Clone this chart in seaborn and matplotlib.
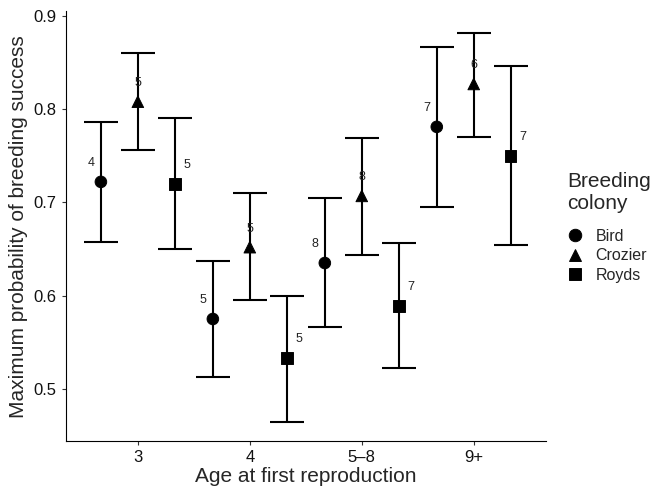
import numpy as np
import pandas as pd
import matplotlib
matplotlib.use("Agg")
import matplotlib.pyplot as plt
import seaborn as sns

# Values
ages = ["3", "4", "5–8", "9+"]
colonies = ["Bird", "Crozier", "Royds"]

bird_est = [0.722, 0.575, 0.635, 0.781]
bird_lo = [0.658, 0.513, 0.566, 0.695]
bird_hi = [0.786, 0.637, 0.705, 0.867]
bird_n = [4, 5, 8, 7]

crozier_est = [0.808, 0.652, 0.707, 0.827]
crozier_lo = [0.756, 0.595, 0.644, 0.770]
crozier_hi = [0.860, 0.710, 0.769, 0.882]
crozier_n = [5, 5, 8, 6]

royds_est = [0.720, 0.533, 0.589, 0.750]
royds_lo = [0.650, 0.465, 0.522, 0.654]
royds_hi = [0.790, 0.600, 0.657, 0.846]
royds_n = [5, 5, 7, 7]

rows = []
for col, est, lo, hi, n in [
    ("Bird", bird_est, bird_lo, bird_hi, bird_n),
    ("Crozier", crozier_est, crozier_lo, crozier_hi, crozier_n),
    ("Royds", royds_est, royds_lo, royds_hi, royds_n),
]:
    for i, a in enumerate(ages):
        rows.append(dict(age=a, colony=col, est=est[i], lo=lo[i], hi=hi[i], n=n[i]))
df = pd.DataFrame(rows)

dodge = {"Bird": -0.33, "Crozier": 0.0, "Royds": 0.33}
df["xpos"] = df["age"].map({a: i for i, a in enumerate(ages)}) + df["colony"].map(dodge)

sns.set_theme(style="ticks")
plt.rcParams["font.family"] = ["Liberation Sans", "DejaVu Sans"]

fig = plt.figure(figsize=(6.52, 4.88), dpi=100)
ax = fig.add_axes([0.101, 0.096, 0.736, 0.881])

# error bars
ax.errorbar(df["xpos"], df["est"], yerr=[df["est"] - df["lo"], df["hi"] - df["est"]],
            fmt="none", ecolor="black", elinewidth=1.5, capsize=12, capthick=1.5, zorder=1)

sns.scatterplot(data=df, x="xpos", y="est", style="colony", style_order=colonies,
                markers={"Bird": "o", "Crozier": "^", "Royds": "s"},
                color="black", edgecolor="black", s=70, ax=ax, zorder=3)

# sample size labels
label_dx = {"Bird": -0.09, "Crozier": 0.0, "Royds": 0.11}
for _, r in df.iterrows():
    ax.text(r["xpos"] + label_dx[r["colony"]], r["est"] + 0.02, str(r["n"]),
            ha="center", va="center", fontsize=9, color="#222222", zorder=2)

ax.set_xticks(range(len(ages)))
ax.set_xticklabels(ages)
ax.set_xlim(-0.643, 3.643)
ax.set_ylim(0.444, 0.905)
ax.set_yticks([0.5, 0.6, 0.7, 0.8, 0.9])
ax.set_yticklabels(["0.5", "0.6", "0.7", "0.8", "0.9"])
ax.set_xlabel("Age at first reproduction", fontsize=15, labelpad=1)
ax.set_ylabel("Maximum probability of breeding success", fontsize=15, labelpad=4)
ax.tick_params(labelsize=12, length=3, width=0.8, colors="#333333", labelcolor="#111111")
for s in ["left", "bottom"]:
    ax.spines[s].set_color("black")
    ax.spines[s].set_linewidth(0.8)
sns.despine(ax=ax)

handles, labels = ax.get_legend_handles_labels()
for h in handles:
    h.set_markersize(9)
leg = ax.legend(handles, labels, title="Breeding\ncolony", loc="upper left",
                bbox_to_anchor=(1.045, 0.625), frameon=False, fontsize=11.5,
                title_fontsize=15, handlelength=1.0, handletextpad=0.75,
                labelspacing=0.28, borderpad=0, borderaxespad=0,
                alignment="left")
leg._legend_box.sep = 11

fig.savefig("out.png", dpi=100)
